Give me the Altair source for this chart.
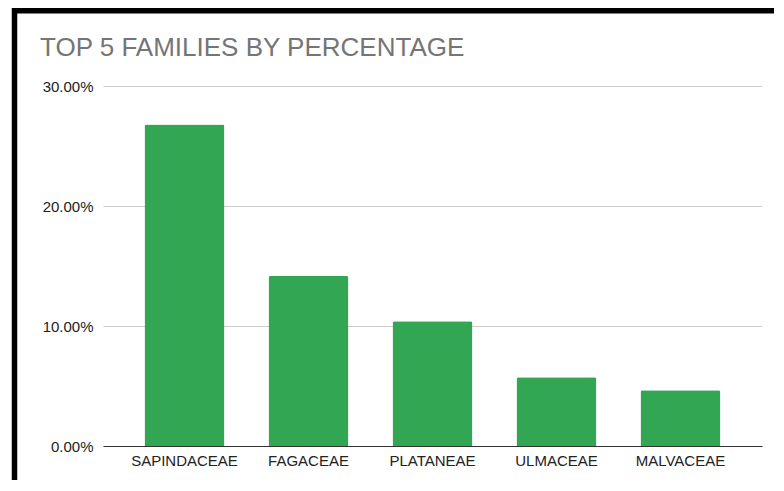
import altair as alt
import pandas as pd

families = ["SAPINDACEAE", "FAGACEAE", "PLATANEAE", "ULMACEAE", "MALVACEAE"]
percentages = [0.268, 0.1417, 0.1039, 0.0572, 0.0464]

df = pd.DataFrame({"family": families, "pct": percentages})

FONT = "Liberation Sans"

bars = alt.Chart(df).mark_bar(
    color="#33a653", cornerRadiusTopLeft=2, cornerRadiusTopRight=2
).encode(
    x=alt.X(
        "family:N",
        sort=families,
        title=None,
        scale=alt.Scale(paddingInner=0.355, paddingOuter=0.335),
        axis=alt.Axis(
            labelAngle=0, ticks=False, domain=True, domainColor="#333333",
            domainWidth=1, labelPadding=7, labelFontSize=15, labelFont=FONT,
            labelColor="#222222", grid=False,
        ),
    ),
    y=alt.Y(
        "pct:Q",
        title=None,
        scale=alt.Scale(domain=[0, 0.3], nice=False),
        axis=alt.Axis(
            values=[0, 0.1, 0.2, 0.3], format=".2%", ticks=False, domain=False,
            labelPadding=10, labelFontSize=15, labelFont=FONT,
            labelColor="#222222", gridColor="#cccccc", gridWidth=1,
        ),
    ),
)

frame = alt.Data(values=[{"k": 1}])
top_band = alt.Chart(frame).mark_rule(color="black", strokeWidth=6).encode(
    x=alt.value(-91), x2=alt.value(690), y=alt.value(-75.5)
)
left_band = alt.Chart(frame).mark_rule(color="black", strokeWidth=5.5).encode(
    x=alt.value(-88.5), y=alt.value(-79), y2=alt.value(420)
)

chart = alt.layer(bars, top_band, left_band).properties(
    width=659,
    height=360,
    title=alt.TitleParams(
        "TOP 5 FAMILIES BY PERCENTAGE",
        anchor="start",
        frame="group",
        dx=-63,
        dy=78,
        baseline="alphabetic",
        font=FONT,
        fontSize=26,
        fontWeight="normal",
        color="#757575",
        offset=0,
    ),
    autosize=alt.AutoSizeParams(type="none"),
    padding={"left": 95, "top": 78, "right": 12, "bottom": 34},
    background="white",
).configure_view(stroke=None)

chart.save("out.html", embed_options={"renderer": "svg", "actions": False})
